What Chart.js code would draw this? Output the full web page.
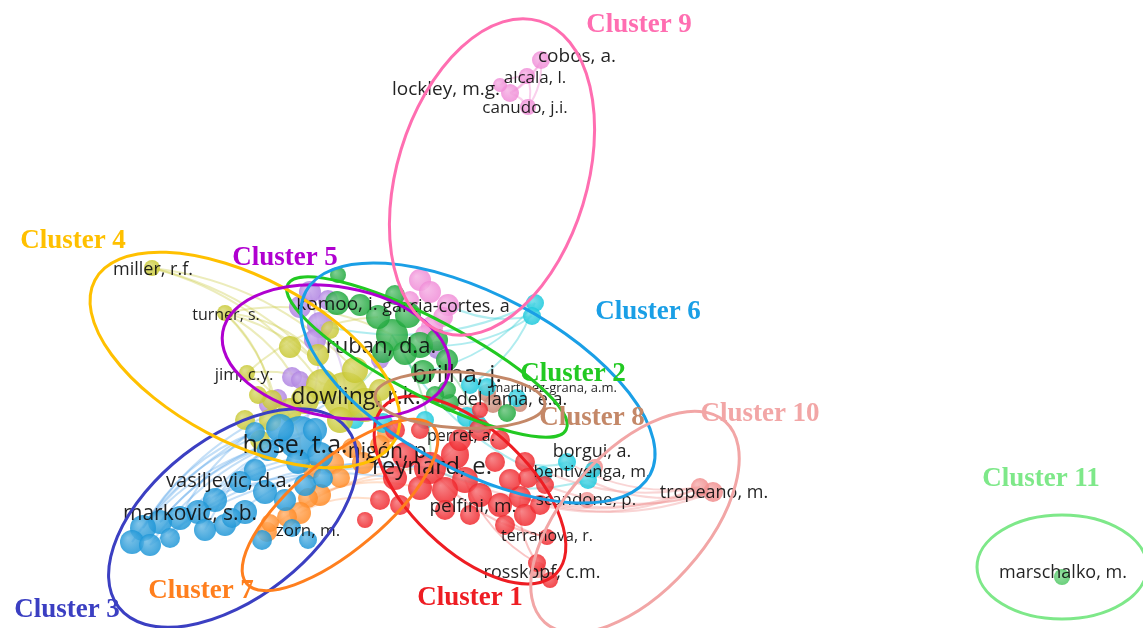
<!DOCTYPE html>
<html>
<head>
<meta charset="utf-8">
<script src="https://cdn.jsdelivr.net/npm/chart.js@4/dist/chart.umd.min.js"></script>
<style>
  html, body { margin: 0; padding: 0; background: #ffffff; }
  #wrap { width: 1143px; height: 628px; position: relative; }
</style>
</head>
<body>
<div id="wrap"><canvas id="myChart"></canvas></div>
<script>
// map coordinates of the author nodes, one list per cluster: [x, y, weight]
const cluster1 = [[430,468,16],[405,455,13],[455,455,14],[465,480,13],[445,490,13],[420,488,12],[395,478,12],
  [480,495,12],[500,505,12],[520,497,11],[525,515,11],[505,525,10],[540,505,10],[525,462,10],[528,478,10],
  [480,430,11],[460,440,11],[500,440,10],[495,462,10],[545,485,9],[380,500,10],[400,505,10],[365,520,8],
  [547,537,8],[537,563,9],[550,580,8],[470,515,10],[420,430,9],[480,410,8],[395,430,10],[445,510,10],[510,480,11]];
const cluster2 = [[392,335,16],[408,315,13],[378,317,12],[420,345,13],[437,340,11],[405,353,12],[423,372,12],
  [447,360,11],[338,275,8],[337,303,12],[360,305,11],[395,295,10],[450,403,9],[507,413,9],[383,352,11],
  [447,390,9],[435,395,9]];
const cluster3 = [[300,438,22],[280,428,14],[320,455,13],[298,462,12],[268,450,11],[315,430,12],[255,470,11],
  [240,482,11],[265,492,12],[285,500,11],[305,485,11],[323,478,10],[215,500,12],[198,512,12],[180,518,12],
  [160,522,12],[143,528,13],[132,542,12],[150,545,11],[170,538,10],[205,530,11],[225,525,11],[245,512,12],
  [262,540,10],[292,528,9],[308,540,9],[232,518,10],[255,432,10]];
const cluster4 = [[345,395,23],[322,385,16],[365,405,17],[305,400,14],[290,410,12],[272,400,10],[355,370,13],
  [318,355,11],[290,347,11],[270,420,11],[260,440,10],[340,420,13],[380,390,11],[152,268,8],[225,313,8],
  [247,373,8],[258,395,9],[330,330,9],[245,420,10]];
const cluster5 = [[310,292,11],[300,307,11],[320,325,13],[315,340,11],[292,377,10],[300,380,9],[278,398,9],
  [268,405,9],[380,360,9],[437,350,9],[328,300,10]];
const cluster6 = [[535,303,9],[532,316,9],[467,417,10],[478,424,9],[517,398,9],[487,387,9],[383,423,10],
  [567,462,9],[543,475,9],[588,480,9],[593,470,8],[470,385,9],[355,420,9],[425,420,9]];
const cluster7 = [[333,463,11],[340,478,10],[320,495,11],[308,498,10],[300,513,11],[287,517,10],[267,532,10],
  [270,523,9],[363,463,11],[387,433,10],[380,445,10],[352,448,10],[312,470,9]];
const cluster8 = [[487,393,9],[493,404,9],[520,405,7]];
const cluster9 = [[541,60,9],[527,76,8],[510,93,9],[528,107,8],[500,85,7],[420,280,11],[430,292,11],
  [448,305,11],[443,317,10],[432,327,11],[425,335,10],[410,300,9]];
const cluster10 = [[713,492,10],[700,487,9],[587,500,8],[595,467,8],[538,570,8]];
const cluster11 = [[1062,577,8]];

const clusterNames = ['Cluster 1','Cluster 2','Cluster 3','Cluster 4','Cluster 5','Cluster 6',
  'Cluster 7','Cluster 8','Cluster 9','Cluster 10','Cluster 11'];
const clusterNodes = [cluster1, cluster2, cluster3, cluster4, cluster5, cluster6,
  cluster7, cluster8, cluster9, cluster10, cluster11];

// co-authorship links: [cluster, node] -> [cluster, node]
const links = [
  [[9,0],[9,1]],[[9,1],[9,2]],[[9,2],[9,3]],[[9,0],[9,2]],[[9,1],[9,3]],[[9,0],[9,3]],[[9,4],[9,1]],
  [[6,0],[6,11]],[[6,1],[2,3]],[[6,0],[5,2]],[[6,1],[9,7]],[[6,0],[2,6]],
  [[4,13],[4,0]],[[4,13],[4,1]],[[4,13],[4,6]],[[4,14],[4,0]],[[4,14],[4,3]],[[4,14],[2,0]],[[4,14],[4,5]],
  [[4,15],[4,0]],[[4,15],[3,0]],[[4,14],[3,1]],[[4,15],[2,2]],[[4,14],[4,7]],
  [[3,16],[3,0]],[[3,15],[3,0]],[[3,17],[3,1]],[[3,14],[3,2]],[[3,13],[1,0]],[[3,18],[3,5]],
  [[3,12],[3,0]],[[3,20],[4,0]],[[3,19],[3,3]],[[3,21],[7,8]],[[3,16],[4,3]],[[3,15],[3,5]],
  [[3,17],[4,0]],[[3,18],[1,0]],[[3,16],[3,27]],[[3,14],[4,4]],[[3,13],[3,0]],[[3,15],[1,6]],
  [[7,6],[1,0]],[[7,5],[1,6]],[[7,4],[1,20]],[[7,3],[1,5]],[[7,2],[3,0]],
  [[10,0],[1,0]],[[10,0],[1,9]],[[10,1],[1,12]],[[10,1],[1,13]],[[10,0],[6,9]],[[10,1],[6,7]],
  [[10,0],[1,19]],[[10,1],[1,9]],
  [[6,7],[1,13]],[[6,8],[2,0]],[[6,9],[1,0]],
  [[1,23],[1,0]],[[1,24],[1,9]],[[1,24],[1,3]],[[1,25],[10,4]],[[1,23],[1,7]],
  [[2,0],[4,0]],[[2,0],[1,0]],[[2,3],[1,15]],[[5,2],[4,0]],[[5,0],[3,0]],[[8,0],[1,0]],[[8,1],[2,12]]
];

// visible author labels
const labelText = ['cobos, a.','alcala, l.','lockley, m.g.','canudo, j.i.','miller, r.f.','turner, s.',
  'jim, c.y.','komoo, i.','garcia-cortes, a','ruban, d.a.','brilha, j.','martinez-grana, a.m.',
  'dowling, r.k.','del lama, e.a.','perret, a.','hose, t.a.','nigón, p.','reynard, e.','borgui, a.',
  'bentivenga, m.','scandone, p.','tropeano, m.','pelfini, m.','terranova, r.','rosskopf, c.m.',
  'vasiljevic, d.a.','markovic, s.b.','zorn, m.','marschalko, m.'];
const labelX = [577,535,446,525,153,226,244,337,446,381,457,554,356,512,461,295,390,432,592,592,586,714,
  473,547,542,229,190,308,1063];
const labelY = [57,78,90,108,270,315,375,305,307,347,375,388,397,400,436,446,452,467,452,472,500,493,
  507,536,573,481,514,531,573];
const labelSize = [19,17,19,17,18,16,17,19,18,22,24,13,23,18,16,25,21,24,18,17,17,18,19,16,18,20,21,17,18];

// cluster outlines: centre x, centre y, half axes, tilt in degrees, and label positions
const ellipseCx = [470,427,233,245,336,478,340,460,492,635,1062];
const ellipseCy = [490,357,518,360,352,383,505,400,177,522,567];
const ellipseRx = [120,157,145,170,115,195,122,85,95,135,85];
const ellipseRy = [60,38,80,82,65,88,45,28,163,70,52];
const ellipseTilt = [44,27.6,-38,28,10,28,-40,3,17,-48,0];
const clusterLabelX = [470,573,67,73,285,648,201,592,639,760,1041];
const clusterLabelY = [598,374,610,241,258,312,591,418,25,414,479];

const lineColors = ['#ee1d23','#22c922','#3b3fc2','#ffc000','#b000d0','#1a9fe6',
  '#ff7f1e','#c48868','#ff6eb1','#f2a6a6','#7ee889'];
const nodeRgb = [[240,40,45],[30,168,60],[30,150,215],[200,200,50],[175,130,225],[25,200,220],
  [255,140,40],[200,130,110],[240,140,215],[240,140,140],[80,200,100]];
const linkColors = ['rgba(240,60,60,0.3)','rgba(40,180,70,0.3)','rgba(60,150,230,0.3)',
  'rgba(200,200,60,0.35)','rgba(180,140,230,0.35)','rgba(30,200,210,0.35)','rgba(255,150,80,0.3)',
  'rgba(200,140,120,0.3)','rgba(245,150,215,0.45)','rgba(240,150,150,0.4)','rgba(80,200,100,0.4)'];

function nodeFill(i) {
    const [r, g, b] = nodeRgb[i];
    const base = 'rgba(' + r + ',' + g + ',' + b + ',0.85)';
    const light = 'rgba(' + Math.round(r + (255 - r) * 0.35) + ',' + Math.round(g + (255 - g) * 0.35) + ',' +
        Math.round(b + (255 - b) * 0.35) + ',0.85)';
    return function(context) {
        const chart = context.chart;
        const raw = context.raw;
        if (!raw || !chart.scales.x || !chart.scales.y) return base;
        const px = chart.scales.x.getPixelForValue(raw.x);
        const py = chart.scales.y.getPixelForValue(raw.y);
        if (!Number.isFinite(px) || !Number.isFinite(py)) return base;
        const gr = chart.ctx.createRadialGradient(px - raw.r * 0.35, py - raw.r * 0.35, 0, px, py, raw.r);
        gr.addColorStop(0, light);
        gr.addColorStop(1, base);
        return gr;
    }
}

const links_plugin = {
    id: 'links',
    beforeDatasetsDraw(chart) {
        const {ctx, scales: {x, y}} = chart
        ctx.save();
        ctx.lineWidth = 2;
        links.forEach(([a, b]) => {
            const p = clusterNodes[a[0] - 1][a[1]];
            const q = clusterNodes[b[0] - 1][b[1]];
            const x1 = x.getPixelForValue(p[0]), y1 = y.getPixelForValue(p[1]);
            const x2 = x.getPixelForValue(q[0]), y2 = y.getPixelForValue(q[1]);
            const mx = (x1 + x2) / 2 + (y2 - y1) * 0.18;
            const my = (y1 + y2) / 2 - (x2 - x1) * 0.18;
            ctx.strokeStyle = linkColors[a[0] - 1];
            ctx.beginPath();
            ctx.moveTo(x1, y1);
            ctx.quadraticCurveTo(mx, my, x2, y2);
            ctx.stroke();
        });
        ctx.restore();
    }
};

const nodeLabels = {
    id: 'nodeLabels',
    afterDatasetsDraw(chart) {
        const {ctx, scales: {x, y}} = chart
        ctx.save();
        ctx.textAlign = 'center'
        ctx.textBaseline = 'middle';
        ctx.fillStyle = 'rgba(15,15,15,0.92)'
        labelText.forEach((t, i) => {
            ctx.font = labelSize[i] + 'px "Open Sans", sans-serif'
            ctx.fillText(t, x.getPixelForValue(labelX[i]), y.getPixelForValue(labelY[i]))
        });
        ctx.restore();
    }
};

const outlines = {
    id: 'outlines',
    afterDraw(chart) {
        const {ctx, scales: {x, y}} = chart
        const sx = x.getPixelForValue(1) - x.getPixelForValue(0);
        const sy = Math.abs(y.getPixelForValue(1) - y.getPixelForValue(0));
        ctx.save();
        ctx.lineWidth = 3;
        clusterNames.forEach((name, i) => {
            ctx.strokeStyle = lineColors[i]
            ctx.beginPath();
            ctx.ellipse(x.getPixelForValue(ellipseCx[i]), y.getPixelForValue(ellipseCy[i]),
                ellipseRx[i] * sx, ellipseRy[i] * sy, ellipseTilt[i] * Math.PI / 180, 0, Math.PI * 2);
            ctx.stroke();
        });
        ctx.textAlign = 'center'
        ctx.textBaseline = 'middle';
        ctx.font = 'bold 27px "Liberation Serif", serif'
        clusterNames.forEach((name, i) => {
            ctx.fillStyle = lineColors[i]
            ctx.fillText(name, x.getPixelForValue(clusterLabelX[i]), y.getPixelForValue(clusterLabelY[i]))
        });
        ctx.restore();
    }
};

const data = {
    datasets: clusterNodes.map((nodes, i) => ({
        label: clusterNames[i],
        data: nodes.map(n => ({x: n[0], y: n[1], r: n[2]})),
        backgroundColor: nodeFill(i),
        borderWidth: 0
    }))
};

const config = {
    type: 'bubble',
    data,
    plugins: [links_plugin, nodeLabels, outlines],
    options: {
        animation: false,
        maintainAspectRatio: false,
        responsive: true,
        layout: { padding: 0, autoPadding: false },
        scales: {
            x: { type: 'linear', min: 0, max: 1143, display: false },
            y: { type: 'linear', min: 0, max: 628, reverse: true, display: false }
        },
        plugins: {
            legend: { display: false },
            tooltip: { enabled: false }
        }
    }
};

const myChart = new Chart(document.getElementById('myChart'), config);
</script>
</body>
</html>
